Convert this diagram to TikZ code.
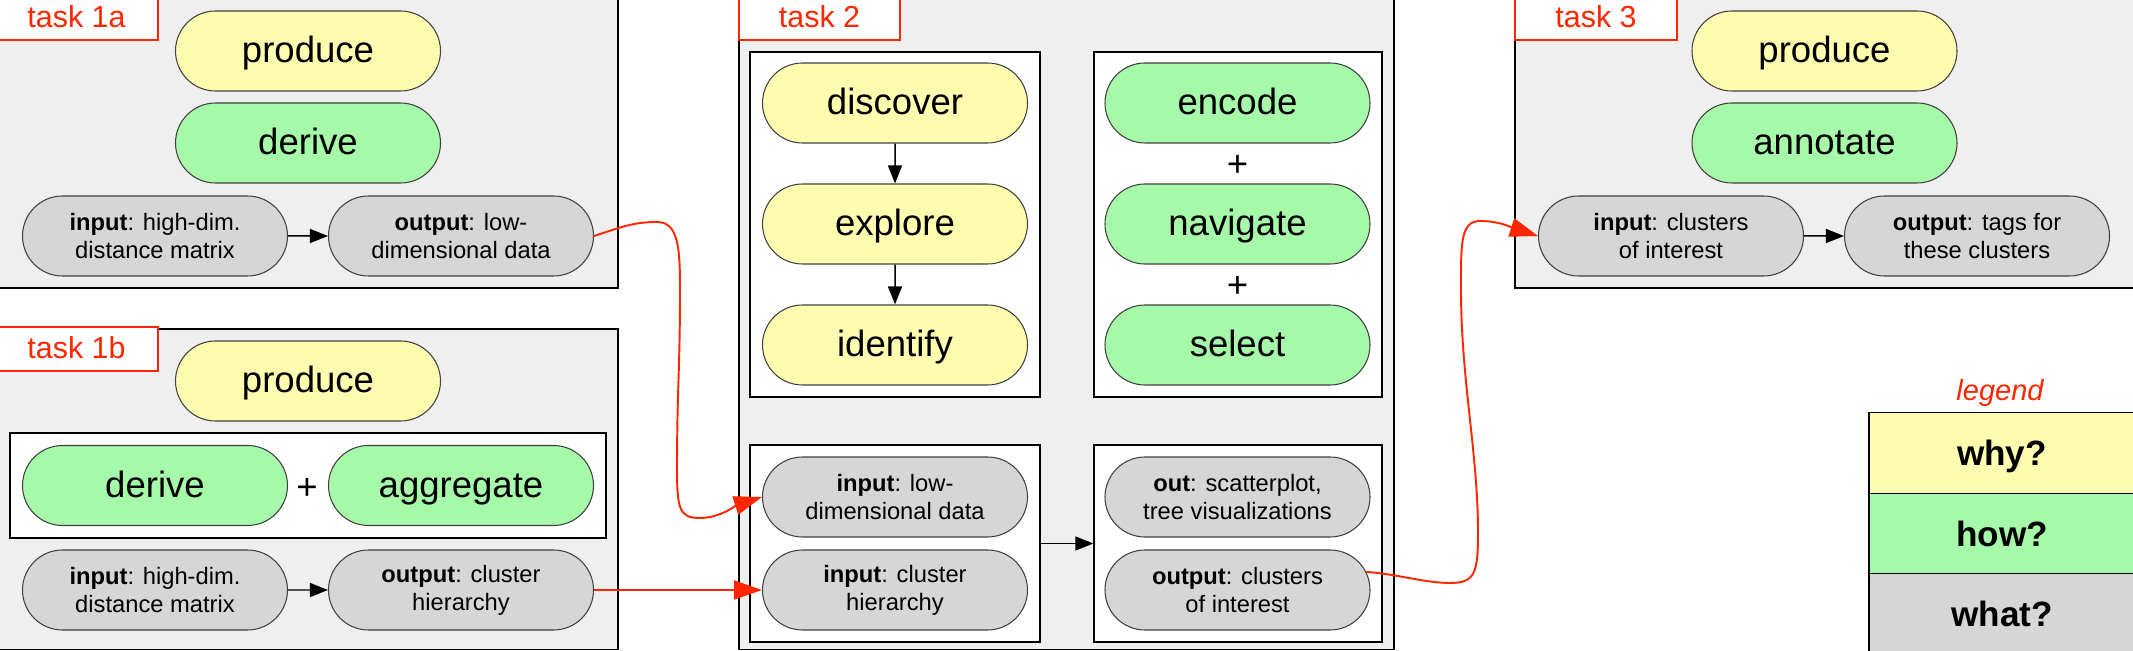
\documentclass[tikz,border=0pt]{standalone}
\usepackage{fontspec}
\setmainfont{Liberation Sans}
\usetikzlibrary{arrows.meta,shapes.misc}

\definecolor{whyfill}{RGB}{255,252,175}
\definecolor{howfill}{RGB}{166,249,168}
\definecolor{whatfill}{RGB}{214,214,214}
\definecolor{panelfill}{RGB}{239,239,239}
\definecolor{taskred}{RGB}{255,38,0}

\tikzset{
  pill/.style={rounded rectangle,draw=black!75,line width=0.6pt,minimum width=5.3cm,minimum height=1.6cm,inner sep=0pt,align=center},
  whypill/.style={pill,fill=whyfill,font=\fontsize{20.8}{25}\selectfont,text height=13.6pt,text depth=0pt},
  howpill/.style={pill,fill=howfill,font=\fontsize{20.8}{25}\selectfont,text height=13.6pt,text depth=0pt},
  whatpill/.style={pill,fill=whatfill,font=\fontsize{13.5}{15.9}\selectfont},
  panel/.style={draw=black,line width=0.8pt,fill=panelfill},
  groupbox/.style={draw=black,line width=0.8pt,fill=white},
  tasklabel/.style={draw=taskred,line width=1.3pt,fill=white,text=taskred,font=\fontsize{17.3}{20}\selectfont,minimum height=0.88cm,text height=11.3pt,text depth=0pt},
  plussign/.style={font=\fontsize{20.8}{25}\selectfont,inner sep=0pt},
  legendrow/.style={draw=black,line width=0.6pt,minimum width=5.32cm,minimum height=1.61cm,font=\fontsize{20}{24}\selectfont\bfseries,text height=14.7pt,text depth=0pt},
  flow/.style={-{Triangle[length=0.36cm,width=0.28cm]},line width=0.85pt},
  link/.style={-{Triangle[length=0.56cm,width=0.38cm]},draw=taskred,line width=1.1pt}
}

\begin{document}
\begin{tikzpicture}[x=0.2mm,y=-0.2mm]
  \useasboundingbox (0,0) rectangle (2133,651);
  \clip (0,0) rectangle (2133,651);

  \draw[panel] (-5,-5) rectangle (618,288);
  \draw[panel] (-5,329) rectangle (618,649.5);
  \draw[panel] (739,-5) rectangle (1394,649.5);
  \draw[panel] (1515,-5) rectangle (2140,288);

  \node[tasklabel,minimum width=3.26cm] (t1a) at (76.5,18) {task 1a};
  \node[tasklabel,minimum width=3.26cm] (t1b) at (76.5,349) {task 1b};
  \node[tasklabel,minimum width=3.22cm] (t2) at (819.5,18) {task 2};
  \node[tasklabel,minimum width=3.24cm] (t3) at (1596,18) {task 3};

  \node[whypill] (prod1a) at (308,51) {produce};
  \node[howpill] (der1a) at (308,143) {derive};
  \node[whatpill] (in1a) at (155,236) {\textbf{input}: high-dim.\\distance matrix};
  \node[whatpill] (out1a) at (461,236) {\textbf{output}: low-\\dimensional data};

  \node[whypill] (prod1b) at (308,381) {produce};
  \draw[groupbox] (10,433) rectangle (606,538);
  \node[howpill] (der1b) at (155,485.5) {derive};
  \node[howpill] (agg1b) at (461,485.5) {aggregate};
  \node[plussign] (plus1b) at (307,489) {+};
  \node[whatpill] (in1b) at (155,590) {\textbf{input}: high-dim.\\distance matrix};
  \node[whatpill] (out1b) at (461,590) {\textbf{output}: cluster\\hierarchy};

  \draw[groupbox] (750,52) rectangle (1040,397);
  \draw[groupbox] (1094,52) rectangle (1382,397);
  \node[whypill] (disc) at (895,103) {discover};
  \node[whypill] (expl) at (895,224) {explore};
  \node[whypill] (iden) at (895,345) {identify};
  \node[howpill] (enc) at (1237.5,103) {encode};
  \node[howpill] (nav) at (1237.5,224) {navigate};
  \node[howpill] (sel) at (1237.5,345) {select};
  \node[plussign] (plus2a) at (1237.5,166) {+};
  \node[plussign] (plus2b) at (1237.5,287) {+};

  \node[groupbox,minimum width=5.8cm,minimum height=3.94cm] (inbox) at (895,543.5) {};
  \node[groupbox,minimum width=5.76cm,minimum height=3.94cm] (outbox) at (1238,543.5) {};
  \node[whatpill] (in2a) at (895,497) {\textbf{input}: low-\\dimensional data};
  \node[whatpill] (in2b) at (895,590) {\textbf{input}: cluster\\hierarchy};
  \node[whatpill] (out2a) at (1237.5,497) {\textbf{out}: scatterplot,\\tree visualizations};
  \node[whatpill] (out2b) at (1237.5,590) {\textbf{output}: clusters\\of interest};

  \node[whypill] (prod3) at (1824.5,51) {produce};
  \node[howpill] (ann3) at (1824.5,143) {annotate};
  \node[whatpill] (in3) at (1671,236) {\textbf{input}: clusters\\of interest};
  \node[whatpill] (out3) at (1977,236) {\textbf{output}: tags for\\these clusters};

  \node[text=taskred,font=\fontsize{16.5}{20}\selectfont\itshape] (legendtitle) at (2000,393) {legend};
  \node[legendrow,fill=whyfill] (lwhy) at (2002,453) {why?};
  \node[legendrow,fill=howfill] (lhow) at (2002,533.5) {how?};
  \node[legendrow,fill=whatfill] (lwhat) at (2002,614) {what?};

  \draw[flow] (in1a) -- (out1a);
  \draw[flow] (in1b) -- (out1b);
  \draw[flow] (disc) -- (expl);
  \draw[flow] (expl) -- (iden);
  \draw[flow] (inbox) -- (outbox);
  \draw[flow] (in3) -- (out3);

  \draw[link] (out1a.east) .. controls +(25,-8) and +(-25,0) .. (657,222)
    .. controls +(22,0) and +(0,-40) .. (680,290)
    .. controls +(0,80) and +(0,-80) .. (677,470)
    .. controls +(0,40) and +(-20,0) .. (700,518)
    .. controls +(20,0) and +(-25,8) .. (in2a.west);
  \draw[link] (out1b) -- (in2b);
  \draw[link] (out2b.8) .. controls +(30,2) and +(-25,0) .. (1450,583)
    .. controls +(25,0) and +(0,40) .. (1478,533)
    .. controls +(0,-80) and +(0,90) .. (1461,290)
    .. controls +(0,-45) and +(-20,0) .. (1480,221)
    .. controls +(20,0) and +(-25,-8) .. (in3.west);
\end{tikzpicture}
\end{document}
